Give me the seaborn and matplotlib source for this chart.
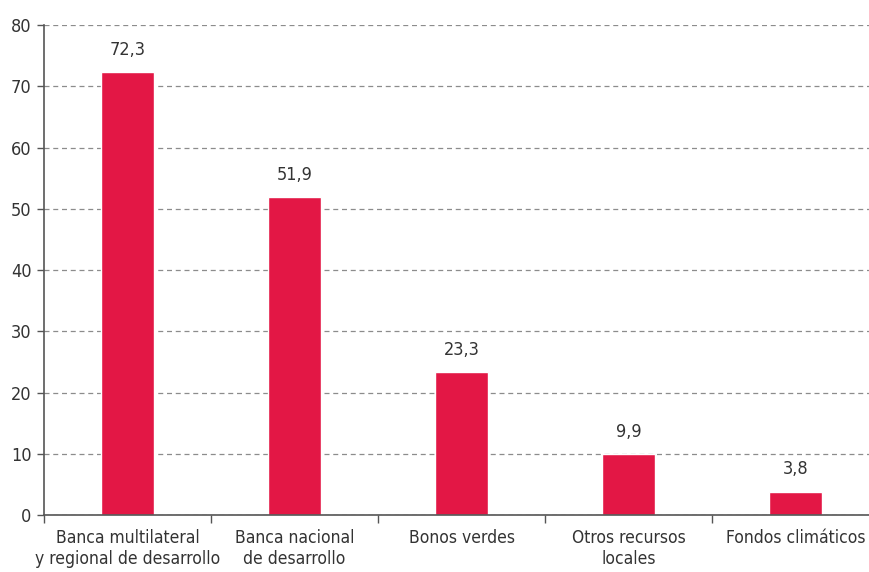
import matplotlib
matplotlib.use("Agg")
import matplotlib.pyplot as plt
import seaborn as sns
import pandas as pd

categorias = [
    "Banca multilateral\ny regional de desarrollo",
    "Banca nacional\nde desarrollo",
    "Bonos verdes",
    "Otros recursos\nlocales",
    "Fondos climáticos",
]
valores = [72.3, 51.9, 23.3, 9.9, 3.8]
ticks_y = [0, 10, 20, 30, 40, 50, 60, 70, 80]

sns.set_theme(style="white")
plt.rcParams["font.family"] = ["DejaVu Sans"]
plt.rcParams["font.stretch"] = "condensed"

df = pd.DataFrame({"categoria": categorias, "valor": valores})

fig = plt.figure(figsize=(8.69, 5.72), dpi=100)
# the plotting area runs slightly past the right edge of the figure
ax = fig.add_axes([0.0506, 0.0997, 0.961, 0.8563])

sns.barplot(data=df, x="categoria", y="valor", color="#E31745",
            saturation=1, width=0.315, ax=ax, zorder=3)

for i, v in enumerate(valores):
    ax.text(i, v + 2.2, f"{v:.1f}".replace(".", ","), ha="center", va="bottom",
            fontsize=13, color="#333333", fontstretch="condensed")

ax.set_ylim(0, 80)
ax.set_xlim(-0.5, 4.5)
ax.set_yticks(ticks_y)
ax.set_yticklabels([str(t) for t in ticks_y], fontsize=13, color="#333333",
                   fontstretch="condensed")
ax.set_xticks(range(len(categorias)))
ax.set_xticklabels(categorias, fontsize=12.5, color="#333333", fontstretch="condensed")
ax.set_xticks([i - 0.5 for i in range(len(categorias) + 1)], minor=True)
ax.tick_params(axis="x", which="major", length=0, pad=10)
ax.tick_params(axis="x", which="minor", length=6, width=1, color="#555555", direction="out", bottom=True)
ax.tick_params(axis="y", length=5, width=1, color="#555555", direction="out", left=True, pad=4)
ax.set_xlabel("")
ax.set_ylabel("")

ax.yaxis.grid(True, linestyle=(0, (4, 3)), color="#8c8c8c", linewidth=0.9, zorder=0)
ax.xaxis.grid(False)
for s in ["top", "right"]:
    ax.spines[s].set_visible(False)
for s in ["left", "bottom"]:
    ax.spines[s].set_color("#555555")
    ax.spines[s].set_linewidth(1.2)
    ax.spines[s].set_zorder(4)

fig.savefig("out.png", dpi=100)
